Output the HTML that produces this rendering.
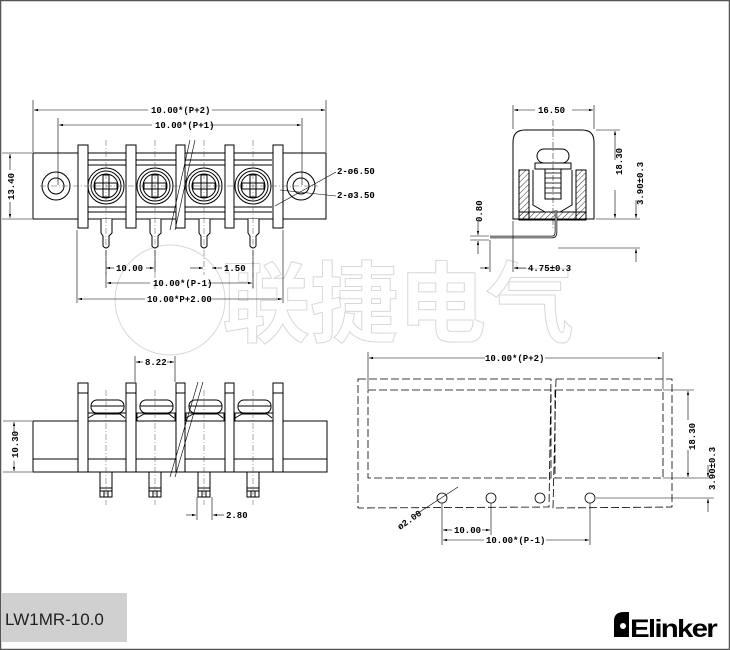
<!DOCTYPE html>
<html><head><meta charset="utf-8"><style>
html,body{margin:0;padding:0;background:#fff}
svg{display:block}
text{font-family:"Liberation Mono",monospace;font-weight:bold;font-size:9px;fill:#000}
</style></head><body>
<svg width="730" height="650" viewBox="0 0 730 650" xmlns="http://www.w3.org/2000/svg">
<defs>
<marker id="a" viewBox="0 0 10 6" refX="10" refY="3" markerWidth="8" markerHeight="4" orient="auto-start-reverse"><path d="M0,0L10,3L0,6z" fill="#000"/></marker>
<pattern id="h" width="4" height="4" patternUnits="userSpaceOnUse" patternTransform="rotate(45)"><line x1="0" y1="0" x2="0" y2="4" stroke="#000" stroke-width="0.8"/></pattern>
</defs>
<rect x="0.5" y="0.5" width="729" height="649" fill="none" stroke="#555" stroke-width="1.5"/>

<!-- watermark -->
<g fill="none" stroke="#d8d8d8" stroke-width="1">
<circle cx="170" cy="300" r="55"/>
<text x="222" y="335" style="font-family:'Noto Sans CJK SC',sans-serif;font-size:88px;fill:none;stroke:#d8d8d8;stroke-width:1;font-weight:bold">联捷电气</text>
</g>

<g fill="none" stroke="#000" stroke-width="1">
<!-- TOP VIEW -->
<rect x="33" y="153" width="293" height="66"/>
<line x1="88" y1="160" x2="272" y2="160"/><line x1="88" y1="212" x2="272" y2="212"/>
<line x1="88" y1="165" x2="272" y2="165"/><line x1="88" y1="207" x2="272" y2="207"/>
<g id="s">
<circle cx="106" cy="186" r="18"/><circle cx="106" cy="186" r="15"/><circle cx="106" cy="186" r="12"/>
<rect x="103" y="175" width="6" height="22"/><rect x="95" y="183" width="22" height="6"/>
<path d="M101,219V233L103,236V246Q106,250 109,246V236L112,233V219" fill="#fff"/>
</g>
<use href="#s" x="49"/><use href="#s" x="98"/><use href="#s" x="147"/>
<g fill="#fff">
<rect x="78" y="145" width="10" height="83"/><rect x="126" y="145" width="10" height="83"/><rect x="176" y="145" width="9" height="83"/><rect x="225" y="145" width="9" height="83"/><rect x="273" y="145" width="10" height="83"/>
</g>
<circle cx="56" cy="186" r="14"/><circle cx="56" cy="186" r="8"/>
<circle cx="301" cy="186" r="14"/><circle cx="301" cy="186" r="8"/>
<g stroke-dasharray="6,2,1,2" stroke-width="0.5" stroke="#555">
<line x1="106" y1="140" x2="106" y2="275"/><line x1="155" y1="140" x2="155" y2="290"/><line x1="204" y1="140" x2="204" y2="275"/><line x1="253" y1="140" x2="253" y2="290"/>
<line x1="40" y1="186" x2="318" y2="186"/>
</g>
<line x1="190" y1="140" x2="170" y2="230" stroke-width="0.6"/><line x1="195" y1="140" x2="175" y2="230" stroke-width="0.6"/>
<!-- dims -->
<g stroke-width="0.6">
<line x1="33" y1="100" x2="33" y2="152"/><line x1="326" y1="100" x2="326" y2="152"/>
<line x1="58" y1="118" x2="58" y2="185"/><line x1="302" y1="118" x2="302" y2="185"/>
<line x1="34" y1="110" x2="148" y2="110" marker-start="url(#a)"/><line x1="212" y1="110" x2="325" y2="110" marker-end="url(#a)"/>
<line x1="59" y1="125" x2="152" y2="125" marker-start="url(#a)"/><line x1="210" y1="125" x2="301" y2="125" marker-end="url(#a)"/>
<line x1="2" y1="153" x2="32" y2="153"/><line x1="2" y1="219" x2="32" y2="219"/>
<line x1="10" y1="154" x2="10" y2="170" marker-start="url(#a)"/><line x1="10" y1="202" x2="10" y2="218" marker-end="url(#a)"/>
<line x1="106" y1="250" x2="106" y2="288"/><line x1="253" y1="250" x2="253" y2="288"/><line x1="155" y1="250" x2="155" y2="272"/>
<line x1="77" y1="230" x2="77" y2="303"/><line x1="283" y1="230" x2="283" y2="303"/>
<line x1="106" y1="268" x2="114" y2="268" marker-start="url(#a)"/><line x1="146" y1="268" x2="154" y2="268" marker-end="url(#a)"/>
<line x1="190" y1="268" x2="203" y2="268" marker-end="url(#a)"/><line x1="212" y1="268" x2="222" y2="268" marker-start="url(#a)"/>
<line x1="107" y1="283" x2="150" y2="283" marker-start="url(#a)"/><line x1="208" y1="283" x2="252" y2="283" marker-end="url(#a)"/>
<line x1="78" y1="299" x2="145" y2="299" marker-start="url(#a)"/><line x1="212" y1="299" x2="282" y2="299" marker-end="url(#a)"/>
<line x1="275" y1="206" x2="336" y2="172"/><line x1="280" y1="190" x2="336" y2="196"/>
</g>
</g>
<text x="151" y="113">10.00*(P+2)</text>
<text x="155" y="128">10.00*(P+1)</text>
<text x="14" y="200" transform="rotate(-90 14 200)">13.40</text>
<text x="116" y="271">10.00</text>
<text x="224" y="271">1.50</text>
<text x="153" y="286">10.00*(P-1)</text>
<text x="147" y="302">10.00*P+2.00</text>
<text x="337" y="174">2-ø6.50</text>
<text x="337" y="198">2-ø3.50</text>

<!-- SIDE VIEW TOP RIGHT -->
<g fill="none" stroke="#000" stroke-width="1">
<path d="M513,219V142Q513,130 525,130H582Q594,130 594,142V219Z"/>
<rect x="519" y="170" width="10" height="50" fill="url(#h)"/><rect x="576" y="170" width="10" height="50" fill="url(#h)"/>
<rect x="519" y="212" width="67" height="8" fill="url(#h)"/>
<path d="M533,170V205L545,212M572,170V205L560,212"/>
<rect x="537" y="149" width="32" height="14" rx="7"/>
<rect x="535" y="163" width="36" height="6"/>
<rect x="545" y="169" width="16" height="30"/>
<g stroke-width="0.8"><line x1="545" y1="173" x2="561" y2="173"/><line x1="545" y1="178" x2="561" y2="178"/><line x1="545" y1="183" x2="561" y2="183"/><line x1="545" y1="188" x2="561" y2="188"/><line x1="545" y1="193" x2="561" y2="193"/></g>
<path d="M490,237H552Q556,237 556,232V210" stroke-width="2.5"/>
<path d="M490,237H552Q556,237 556,232V210" stroke="#fff" stroke-width="1"/>
<line x1="553" y1="120" x2="553" y2="230" stroke-dasharray="6,2,1,2" stroke-width="0.5"/>
<g stroke-width="0.6">
<line x1="513" y1="105" x2="513" y2="129"/><line x1="594" y1="105" x2="594" y2="129"/>
<line x1="514" y1="110" x2="535" y2="110" marker-start="url(#a)"/><line x1="572" y1="110" x2="593" y2="110" marker-end="url(#a)"/>
<line x1="596" y1="130" x2="620" y2="130"/><line x1="596" y1="219" x2="640" y2="219"/><line x1="558" y1="248" x2="640" y2="248"/>
<line x1="615" y1="131" x2="615" y2="160" marker-start="url(#a)"/><line x1="615" y1="190" x2="615" y2="218" marker-end="url(#a)"/>
<line x1="636" y1="200" x2="636" y2="218" marker-end="url(#a)"/><line x1="636" y1="249" x2="636" y2="262" marker-start="url(#a)"/>
<line x1="470" y1="236" x2="489" y2="236"/><line x1="470" y1="240" x2="489" y2="240"/>
<line x1="478" y1="222" x2="478" y2="235" marker-end="url(#a)"/><line x1="478" y1="241" x2="478" y2="254" marker-start="url(#a)"/>
<line x1="490" y1="240" x2="490" y2="272"/><line x1="513" y1="221" x2="513" y2="272"/>
<line x1="480" y1="268" x2="489" y2="268" marker-end="url(#a)"/><line x1="514" y1="268" x2="526" y2="268" marker-start="url(#a)"/>
</g>
</g>
<text x="538" y="113">16.50</text>
<text x="622" y="175" transform="rotate(-90 622 175)">18.30</text>
<text x="643" y="205" transform="rotate(-90 643 205)">3.90±0.3</text>
<text x="482" y="222" transform="rotate(-90 482 222)">0.80</text>
<text x="528" y="271">4.75±0.3</text>

<!-- BOTTOM LEFT VIEW -->
<g fill="none" stroke="#000" stroke-width="1">
<rect x="33" y="421" width="294" height="51"/>
<line x1="33" y1="459" x2="327" y2="459"/>
<g id="b">
<rect x="91" y="400" width="33" height="13" rx="6"/>
<line x1="91" y1="406" x2="124" y2="406"/>
<path d="M88,418L95,414H120L125,418"/>
<rect x="88" y="413" width="38" height="8"/>
<rect x="100" y="472" width="12" height="25"/><line x1="100" y1="488" x2="112" y2="488"/><line x1="100" y1="491" x2="112" y2="491"/><line x1="104" y1="491" x2="104" y2="497"/><line x1="108" y1="491" x2="108" y2="497"/>
</g>
<use href="#b" x="49"/><use href="#b" x="98"/><use href="#b" x="147"/>
<g fill="#fff">
<rect x="78" y="383" width="10" height="89"/><rect x="126" y="383" width="10" height="89"/><rect x="176" y="383" width="9" height="89"/><rect x="225" y="383" width="9" height="89"/><rect x="273" y="383" width="10" height="89"/>
</g>
<line x1="78" y1="393" x2="88" y2="393"/><line x1="126" y1="393" x2="136" y2="393"/><line x1="176" y1="393" x2="185" y2="393"/><line x1="225" y1="393" x2="234" y2="393"/><line x1="273" y1="393" x2="283" y2="393"/>
<line x1="198" y1="382" x2="170" y2="477" stroke-width="0.6"/><line x1="203" y1="382" x2="175" y2="477" stroke-width="0.6"/>
<g stroke-dasharray="6,2,1,2" stroke-width="0.5" stroke="#555">
<line x1="106" y1="390" x2="106" y2="505"/><line x1="155" y1="390" x2="155" y2="505"/><line x1="204" y1="390" x2="204" y2="505"/><line x1="253" y1="390" x2="253" y2="505"/>
</g>
<g stroke-width="0.6">
<line x1="135" y1="356" x2="135" y2="382"/><line x1="175" y1="356" x2="175" y2="382"/>
<line x1="136" y1="362" x2="143" y2="362" marker-start="url(#a)"/><line x1="167" y1="362" x2="174" y2="362" marker-end="url(#a)"/>
<line x1="3" y1="421" x2="32" y2="421"/><line x1="3" y1="472" x2="32" y2="472"/>
<line x1="14" y1="422" x2="14" y2="432" marker-start="url(#a)"/><line x1="14" y1="461" x2="14" y2="471" marker-end="url(#a)"/>
<line x1="197" y1="497" x2="197" y2="520"/><line x1="212" y1="497" x2="212" y2="520"/>
<line x1="186" y1="515" x2="196" y2="515" marker-end="url(#a)"/><line x1="213" y1="515" x2="224" y2="515" marker-start="url(#a)"/>
</g>
</g>
<text x="145" y="365">8.22</text>
<text x="18" y="458" transform="rotate(-90 18 458)">10.30</text>
<text x="226" y="518">2.80</text>

<!-- BOTTOM RIGHT PCB -->
<g fill="none" stroke="#000" stroke-width="0.8" stroke-dasharray="8,3">
<path d="M358,379L551,379L549,507L358,508Z"/>
<path d="M556,379L672,379L672,507L553,508Z"/>
<rect x="368" y="390" width="183" height="88"/>
<rect x="555" y="390" width="108" height="88"/>
</g>
<g fill="none" stroke="#000" stroke-width="0.8">
<circle cx="442" cy="498" r="5"/><circle cx="491" cy="498" r="5"/><circle cx="540" cy="498" r="5"/><circle cx="590" cy="498" r="5"/>
<g stroke-width="0.6">
<line x1="368" y1="352" x2="368" y2="389"/><line x1="663" y1="352" x2="663" y2="389"/>
<line x1="369" y1="358" x2="485" y2="358" marker-start="url(#a)"/><line x1="545" y1="358" x2="662" y2="358" marker-end="url(#a)"/>
<line x1="663" y1="390" x2="694" y2="390"/><line x1="663" y1="478" x2="714" y2="478"/><line x1="596" y1="498" x2="714" y2="498"/>
<line x1="688" y1="391" x2="688" y2="420" marker-start="url(#a)"/><line x1="688" y1="450" x2="688" y2="477" marker-end="url(#a)"/>
<line x1="708" y1="465" x2="708" y2="477" marker-end="url(#a)"/><line x1="708" y1="499" x2="708" y2="512" marker-start="url(#a)"/>
<line x1="442" y1="503" x2="442" y2="545"/><line x1="491" y1="503" x2="491" y2="535"/><line x1="590" y1="503" x2="590" y2="545"/>
<line x1="443" y1="530" x2="452" y2="530" marker-start="url(#a)"/><line x1="482" y1="530" x2="490" y2="530" marker-end="url(#a)"/>
<line x1="443" y1="540" x2="484" y2="540" marker-start="url(#a)"/><line x1="546" y1="540" x2="589" y2="540" marker-end="url(#a)"/>
<line x1="415" y1="515" x2="458" y2="487"/>
</g>
</g>
<text x="485" y="361">10.00*(P+2)</text>
<text x="695" y="450" transform="rotate(-90 695 450)">18.30</text>
<text x="715" y="490" transform="rotate(-90 715 490)">3.90±0.3</text>
<text x="454" y="533">10.00</text>
<text x="486" y="543">10.00*(P-1)</text>
<text x="400" y="530" transform="rotate(-35 400 530)">ø2.00</text>

<!-- footer -->
<rect x="2" y="593" width="125" height="49" fill="#d0d0d0"/>
<text x="5" y="625" style="font-family:'Liberation Sans',sans-serif;font-weight:normal;font-size:17px;fill:#222">LW1MR-10.0</text>
<g>
<path d="M614,637V621Q614,612 624,612H629V637Z" fill="#000"/>
<circle cx="623" cy="626" r="3" fill="#fff"/>
<text x="630" y="637" style="font-family:'Liberation Sans',sans-serif;font-weight:bold;font-size:25px;letter-spacing:-1.5px;fill:#000" textLength="86" lengthAdjust="spacingAndGlyphs">Elinker</text>
</g>
</svg>
</body></html>
